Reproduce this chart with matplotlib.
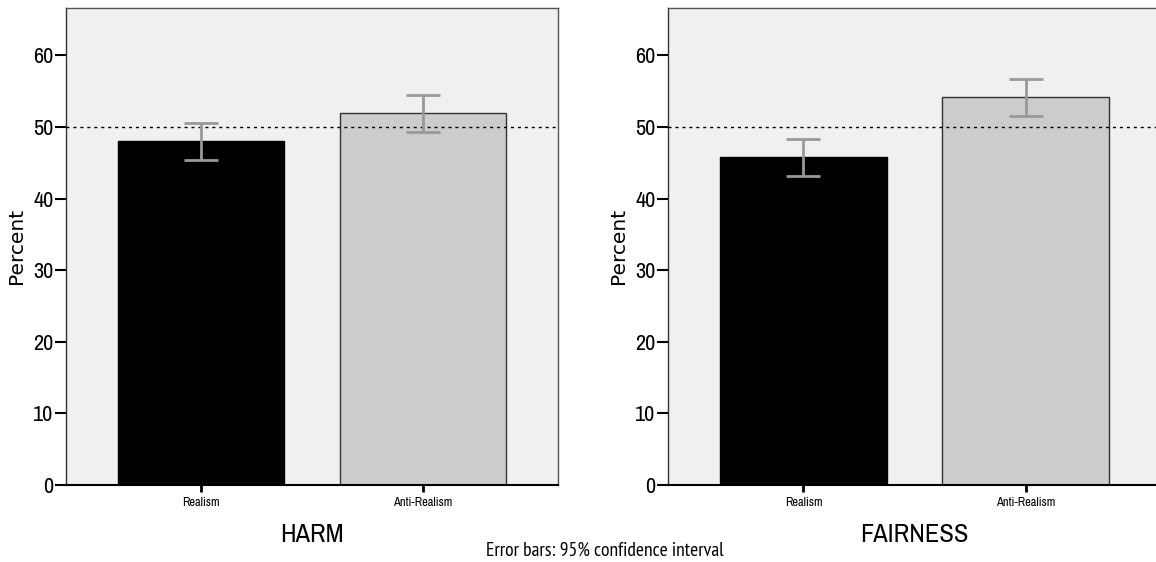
import matplotlib
matplotlib.use("Agg")
import matplotlib.pyplot as plt
import numpy as np

# ---- data ----
categories = ["Realism", "Anti-Realism"]
panel_titles = ["HARM", "FAIRNESS"]
harm_values = [48.0, 52.0]
harm_ci_low = [45.45, 49.35]
harm_ci_high = [50.55, 54.5]
fairness_values = [45.8, 54.2]
fairness_ci_low = [43.2, 51.6]
fairness_ci_high = [48.3, 56.7]
reference_line = 50
y_ticks = [0, 10, 20, 30, 40, 50, 60]
footnote = "Error bars: 95% confidence interval"

panels = [
    (harm_values, harm_ci_low, harm_ci_high),
    (fairness_values, fairness_ci_low, fairness_ci_high),
]

NARROW = ["Archivo Narrow", "Roboto Condensed", "DejaVu Sans"]
FOOT = ["PT Sans Narrow", "Open Sans Condensed", "Roboto Condensed", "DejaVu Sans"]

W, H = 1156, 562
fig = plt.figure(figsize=(W / 100, H / 100), dpi=100)
fig.patch.set_facecolor("white")

ax_bottom_px, ax_top_px = 485, 7.5
ax_h = (ax_bottom_px - ax_top_px) / H
ax_y = 1 - ax_bottom_px / H
lefts_px = [66, 668]
widths_px = [492, 493]

bar_colors = ["#000000", "#cccccc"]
bar_edges = ["#000000", "#333333"]

for i, (vals, lo, hi) in enumerate(panels):
    ax = fig.add_axes([lefts_px[i] / W, ax_y, widths_px[i] / W, ax_h])
    ax.set_facecolor("#f0f0f0")
    x = np.arange(len(categories))
    ax.bar(x, vals, width=0.75, color=bar_colors, edgecolor=bar_edges,
           linewidth=1.0, zorder=2)
    ax.axhline(reference_line, color="black", linewidth=1.0,
               dashes=(2.2, 2.8), zorder=3)
    vals_a = np.array(vals)
    yerr = np.vstack([vals_a - np.array(lo), np.array(hi) - vals_a])
    ax.errorbar(x, vals, yerr=yerr, fmt="none", ecolor="#999999",
                elinewidth=2.0, capsize=12, capthick=2.0, zorder=4)
    ax.set_xlim(-0.61, 1.61)
    ax.set_ylim(0, 66.7)
    ax.set_yticks(y_ticks)
    ax.set_yticklabels([str(t) for t in y_ticks], fontsize=16, family=NARROW)
    ax.set_xticks(x)
    ax.set_xticklabels(categories, fontsize=9, family=NARROW)
    ax.tick_params(axis="y", direction="out", length=8, width=1.5, pad=1,
                   color="black")
    ax.tick_params(axis="x", direction="out", length=5, width=2, pad=3.5,
                   color="black")
    for side in ["top", "right"]:
        ax.spines[side].set_color("#555555")
        ax.spines[side].set_linewidth(1.0)
    ax.spines["left"].set_color("#333333")
    ax.spines["left"].set_linewidth(1.0)
    ax.spines["bottom"].set_color("#000000")
    ax.spines["bottom"].set_linewidth(1.5)
    ax.text(-50 / widths_px[i], 0.5, "Percent", transform=ax.transAxes,
            rotation=90, ha="center", va="center", fontsize=14.5,
            family=["DejaVu Sans"])
    ax.text(0.5, (ax_bottom_px - 534) / (ax_bottom_px - ax_top_px),
            panel_titles[i], transform=ax.transAxes, ha="center",
            va="center", fontsize=19, family=NARROW)

fig.text(605 / W, 1 - 551 / H, footnote, ha="center", va="center",
         fontsize=14, family=FOOT)

fig.savefig("out.png", dpi=100, facecolor="white")
